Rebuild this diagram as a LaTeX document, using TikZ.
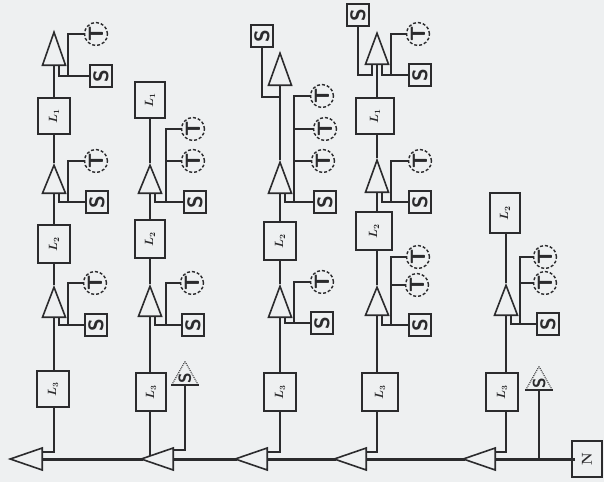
\documentclass[tikz,border=0pt]{standalone}
\usepackage{xcolor}
\usetikzlibrary{calc,shapes.geometric}
\definecolor{pbg}{HTML}{EEF0F1}
\definecolor{pink}{HTML}{2B2B2D}
\tikzset{
  lbox/.style  = {rectangle, draw=pink, line width=1.6pt, fill=pbg, inner sep=0pt,
                  font=\large\boldmath, text=pink},
  sbox/.style  = {rectangle, draw=pink, line width=2.4pt, fill=pbg, inner sep=0pt,
                  minimum size=22pt, font=\huge\sffamily\bfseries, text=pink},
  nbox/.style  = {lbox, minimum width=30pt, minimum height=36pt, font=\Large\bfseries},
  tc/.style    = {circle, draw=pink, line width=1.4pt, densely dashed, fill=pbg, inner sep=0pt,
                  minimum size=23pt, font=\huge\sffamily\bfseries, text=pink},
  amp/.style   = {isosceles triangle, isosceles triangle stretches, shape border rotate=90,
                  draw=pink, line width=1.6pt, fill=pbg, inner sep=0pt, anchor=lower side,
                  minimum width=23pt},
  busamp/.style= {isosceles triangle, isosceles triangle stretches, shape border rotate=180,
                  draw=pink, line width=1.6pt, fill=pbg, inner sep=0pt, anchor=lower side,
                  minimum width=22pt, minimum height=32pt},
  stri/.style  = {isosceles triangle, isosceles triangle stretches, shape border rotate=90,
                  draw=pink, line width=1pt, densely dotted, inner sep=0pt, anchor=lower side,
                  minimum width=26pt, minimum height=23pt},
  stxt/.style  = {font=\LARGE\sffamily\bfseries, text=pink, inner sep=0pt},
  wire/.style  = {draw=pink, line width=2pt},
  buswire/.style = {draw=pink, line width=3pt},
}
\begin{document}
\begin{tikzpicture}[x=1pt,y=-1pt]
  \fill[pbg] (0,0) rectangle (604,482);
  \useasboundingbox (0,0) rectangle (604,482);
  % bus
  \foreach \n/\x in {b1/43, b2/174, b3/268, b4/367, b5/496}{
    \node[busamp] (\n) at (\x,459) {};
  }
  \node[nbox] (nn) at (587,459) {\rotatebox{90}{N}};
  \foreach \a/\b in {nn.west/b5.lower side, b5.apex/b4.lower side, b4.apex/b3.lower side,
                     b3.apex/b2.lower side, b2.apex/b1.lower side}{
    \draw[buswire, shorten <=-4pt] (\a) -- (\b);
  }
  % amplifiers
  \foreach \n/\x/\y/\h in {a11/54/66/33, a12/54/194/28, a13/54/318/30,
                           a21/150/194/28, a22/150/317/30,
                           a31/280/86/32, a32/280/194/31, a33/280/318/31,
                           a41/377/65/31, a42/377/193/32, a43/377/316/28,
                           a51/506/316/30}{
    \node[amp, minimum height=\h pt] (\n) at (\x,\y) {};
  }
  % delay boxes
  \foreach \n/\x/\y/\w/\h/\k in {l11/54/116/32/36/1, l12/54/244/32/38/2, l13/53/389/32/36/3,
                                 l21/150/100/30/36/1, l22/150/239/30/38/2, l23/151/392/30/38/3,
                                 l32/280/241/32/38/2, l33/280/392/32/38/3,
                                 l41/375/116/38/36/1, l42/374/231/36/38/2, l43/380/392/36/38/3,
                                 l51/505/213/30/40/2, l53/502/392/32/38/3}{
    \node[lbox, minimum width=\w pt, minimum height=\h pt] (\n) at (\x,\y) {\rotatebox{90}{$L_\k$}};
  }
  % switches and terminals
  \foreach \n/\x/\y in {s11/101/76, s12/97/202, s13/96/325, s21/195/202, s22/193/325,
                        s30/262/36, s32/325/202, s33/322/323,
                        s40/358/15, s41/420/75, s42/420/202, s43/420/325,
                        s53/548/324}{
    \node[sbox] (\n) at (\x,\y) {\rotatebox{90}{S}};
  }
  \foreach \n/\x/\y in {t11/96/34, t12/96/161, t13/95/283,
                        t21a/193/129, t21b/193/161, t22/192/283,
                        t32a/322/96, t32b/325/129, t32c/323/161, t33/322/282,
                        t41/418/34, t42/420/161, t43a/418/257, t43b/417/285,
                        t51a/545/257, t51b/545/283}{
    \node[tc] (\n) at (\x,\y) {\rotatebox{90}{T}};
  }
  \node[stri] (st2) at (185,385) {};
  \node[stxt] (st2l) at (185,378) {\rotatebox{90}{S}};
  \node[stri] (st5) at (539,390) {};
  \node[stxt] (st5l) at (539,383) {\rotatebox{90}{S}};
  \foreach \n in {st2, st5}{
    \draw[wire] (\n.left corner) -- (\n.right corner);
  }
  % trunks
  \foreach \a/\b in {a12/l11, a13/l12, a22/l22, a21/l21, a33/l32, a43/l42, a42/l41, a51/l51}{
    \draw[wire] (\a.apex) -- (\a.apex |- \b.south);
  }
  \foreach \a/\b in {a11/l11, a12/l12, a13/l13, a21/l22, a22/l23, a32/l32, a33/l33,
                     a41/l41, a42/l42, a43/l43, a51/l53}{
    \draw[wire] (\a.lower side) -- (\a.lower side |- \b.north);
  }
  \draw[wire] (a32.apex) -- (a31.lower side);
  \foreach \a/\l/\b in {a13/l13/b1, a33/l33/b3, a43/l43/b4, a51/l53/b5}{
    \draw[wire] (\a.lower side |- \l.south) |- ($(\b.lower side)+(0,-7)$);
  }
  \draw[wire] (a22.lower side |- l23.south) -- ($(a22.lower side |- b2.apex)+(0,-3)$);
  \draw[wire] (st2.lower side) |- ($(b2.lower side)+(0,-9)$);
  \draw[wire] (st5.lower side) -- (st5.lower side |- nn);
  % branches to the switches
  \foreach \a/\s in {a11/s11, a12/s12, a13/s13, a21/s21, a22/s22, a32/s32, a33/s33,
                     a41/s41, a42/s42, a43/s43, a51/s53}{
    \draw[wire] ($(\a.lower side)+(5,0)$) |- (\s.west);
  }
  \foreach \n/\x/\y in {j11/68/76, j12/68/202, j13/68/325, j21/166/202, j22/166/325,
                        j32/294/202, j33/294/323, j41/391/75, j42/391/202, j43/391/325, j51/520/324}{
    \coordinate (\n) at (\x,\y);
  }
  \foreach \j/\t in {j11/t11, j12/t12, j13/t13, j21/t21a, j21/t21b, j22/t22,
                     j32/t32a, j32/t32b, j32/t32c, j33/t33,
                     j41/t41, j42/t42, j43/t43a, j43/t43b, j51/t51a, j51/t51b}{
    \draw[wire] (\j) |- (\t.west);
  }
  % top switches
  \draw[wire] (s30.south) |- ($(a31.lower side)+(0,11)$);
  \draw[wire] (s40.south) |- ($(a41.lower side)+(-5,10)$) -- ($(a41.lower side)+(-5,0)$);
\end{tikzpicture}
\end{document}
